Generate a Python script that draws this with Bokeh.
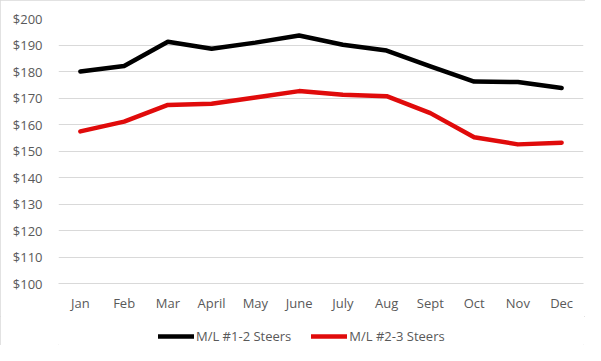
from bokeh.plotting import figure
from bokeh.layouts import column
from bokeh.models import Range1d, FixedTicker, NumeralTickFormatter, Legend, LegendItem
from bokeh.embed import file_html
from bokeh.resources import INLINE

months = ["Jan", "Feb", "Mar", "April", "May", "June", "July", "Aug", "Sept", "Oct", "Nov", "Dec"]
steers_1_2 = [180.0, 182.1, 191.2, 188.6, 190.9, 193.6, 190.1, 187.9, 181.9, 176.2, 176.0, 173.8]
steers_2_3 = [157.4, 161.1, 167.4, 167.8, 170.2, 172.6, 171.2, 170.7, 164.3, 155.2, 152.5, 153.1]
y_ticks = [100, 110, 120, 130, 140, 150, 160, 170, 180, 190, 200]
series_names = ["M/L #1-2 Steers", "M/L #2-3 Steers"]

FONT = "Open Sans"
GRAY = "#595959"
BLACK = "black"
RED = "#e00b0b"
LW = 4.5

# main chart
p = figure(x_range=months, y_range=Range1d(100, 200), width=585, height=316,
           output_backend="svg", toolbar_location=None,
           min_border_left=58, min_border_right=2, min_border_top=18, min_border_bottom=33,
           border_fill_color="white")
p.outline_line_color = None

p.line(months, steers_1_2, line_color=BLACK, line_width=LW, line_join="round", line_cap="round")
p.line(months, steers_2_3, line_color=RED, line_width=LW, line_join="round", line_cap="round")

p.yaxis.ticker = FixedTicker(ticks=y_ticks)
p.yaxis.formatter = NumeralTickFormatter(format="$0")
p.yaxis.axis_line_color = None
p.yaxis.major_tick_line_color = None
p.yaxis.minor_tick_line_color = None
p.yaxis.major_tick_out = 0
p.yaxis.major_tick_in = 0
p.yaxis.major_label_standoff = 16
p.yaxis.major_label_text_font = FONT
p.yaxis.major_label_text_font_size = "13px"
p.yaxis.major_label_text_color = GRAY

p.xaxis.axis_line_color = "#d9d9d9"
p.xaxis.major_tick_line_color = None
p.xaxis.minor_tick_line_color = None
p.xaxis.major_tick_out = 0
p.xaxis.major_tick_in = 0
p.xaxis.major_label_standoff = 10
p.xaxis.major_label_text_font = FONT
p.xaxis.major_label_text_font_size = "13px"
p.xaxis.major_label_text_color = GRAY

p.xgrid.grid_line_color = None
p.ygrid.grid_line_color = "#d9d9d9"
p.ygrid.grid_line_width = 1

# legend strip below the chart (its proxy lines carry the same series, far outside its view)
lg = figure(x_range=Range1d(0, 1), y_range=Range1d(0, 1), width=585, height=29,
            output_backend="svg", toolbar_location=None,
            min_border_left=0, min_border_right=0, min_border_top=0, min_border_bottom=0,
            border_fill_color="white")
lg.outline_line_color = None
lg.axis.visible = False
lg.grid.visible = False
idx = list(range(len(months)))
k1 = lg.line(idx, steers_1_2, line_color=BLACK, line_width=LW, line_cap="round")
k2 = lg.line(idx, steers_2_3, line_color=RED, line_width=LW, line_cap="round")

legend = Legend(items=[LegendItem(label=series_names[0], renderers=[k1]),
                       LegendItem(label=series_names[1], renderers=[k2])],
                orientation="horizontal", location=(100, 0),
                label_text_font=FONT, label_text_font_size="13px", label_text_color=GRAY,
                glyph_width=36, glyph_height=12, label_height=12, spacing=20, padding=0, margin=0,
                label_standoff=2, border_line_color=None, background_fill_alpha=0)
lg.add_layout(legend, "center")

layout = column(p, lg, spacing=0)
layout.styles = {"outline": "1px solid #d9d9d9", "outline-offset": "-1px"}

open("out.html", "w").write(file_html(layout, INLINE))
